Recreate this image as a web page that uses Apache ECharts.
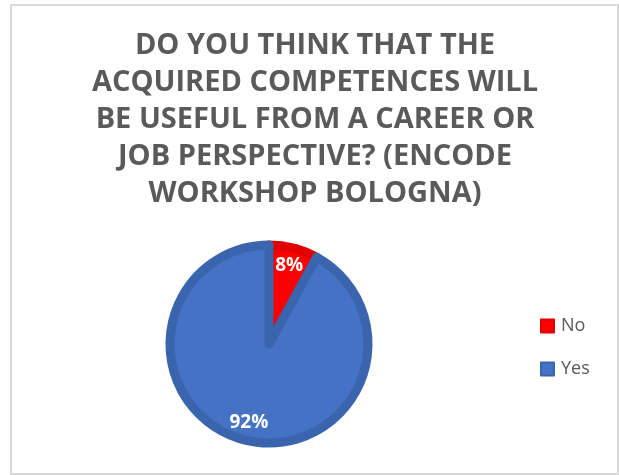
<!DOCTYPE html>
<html>
<head>
<meta charset="utf-8">
<script src="https://cdn.jsdelivr.net/npm/echarts@6/dist/echarts.min.js"></script>
<style>
  html, body { margin: 0; padding: 0; background: #ffffff; }
  #chart { width: 619px; height: 475px; }
</style>
</head>
<body>
<div id="chart"></div>
<script>
// Survey answers (percent of respondents)
const categories = ['No', 'Yes'];
const shares = [8, 92];
const fillColors = ['#FF0000', '#4472C4'];
const edgeColors = ['#E00000', '#3B64AE'];

const titleText = 'DO YOU THINK THAT THE\nACQUIRED COMPETENCES WILL\nBE USEFUL FROM A CAREER OR\nJOB PERSPECTIVE? (ENCODE\nWORKSHOP BOLOGNA)';

const pieData = categories.map((name, i) => ({
  name: name,
  value: shares[i],
  itemStyle: { color: fillColors[i], borderColor: edgeColors[i] }
}));

const chart = echarts.init(document.getElementById('chart'), null, { renderer: 'canvas' });

chart.setOption({
  backgroundColor: '#ffffff',
  animation: false,
  title: {
    text: titleText,
    left: 315,
    top: 27,
    padding: 0,
    textAlign: 'center',
    textStyle: {
      fontFamily: '"Open Sans", sans-serif',
      fontWeight: 'bold',
      fontSize: 29,
      lineHeight: 37,
      color: '#5A5A5A'
    }
  },
  legend: {
    orient: 'vertical',
    left: 535,
    top: 312,
    itemWidth: 13,
    itemHeight: 13,
    itemGap: 25,
    icon: 'rect',
    data: categories,
    textStyle: {
      fontFamily: '"Open Sans", sans-serif',
      fontSize: 18,
      color: '#595959',
      padding: [0, 0, 0, 2]
    }
  },
  graphic: [{
    type: 'rect',
    shape: { x: 11, y: 5, width: 607, height: 469 },
    style: { fill: 'none', stroke: '#D9D9D9', lineWidth: 2 },
    silent: true
  }],
  series: [
    {
      type: 'pie',
      center: [269, 344],
      radius: [0, 99],
      startAngle: 90,
      clockwise: true,
      avoidLabelOverlap: false,
      itemStyle: { borderWidth: 9 },
      label: { show: false },
      labelLine: { show: false },
      emphasis: { disabled: true },
      data: pieData
    },
    {
      // label ring: places the percentage texts part-way out along each slice
      type: 'pie',
      center: [269, 344],
      radius: [56, 100],
      startAngle: 90,
      clockwise: true,
      silent: true,
      avoidLabelOverlap: false,
      itemStyle: { color: 'rgba(0,0,0,0)', borderWidth: 0 },
      label: {
        show: true,
        position: 'inside',
        formatter: (p) => p.value + '%',
        fontFamily: '"Open Sans", sans-serif',
        fontWeight: 'bold',
        fontSize: 19,
        color: '#ffffff'
      },
      labelLine: { show: false },
      emphasis: { disabled: true },
      data: categories.map((name, i) => ({ name: name, value: shares[i] }))
    }
  ]
});
</script>
</body>
</html>
